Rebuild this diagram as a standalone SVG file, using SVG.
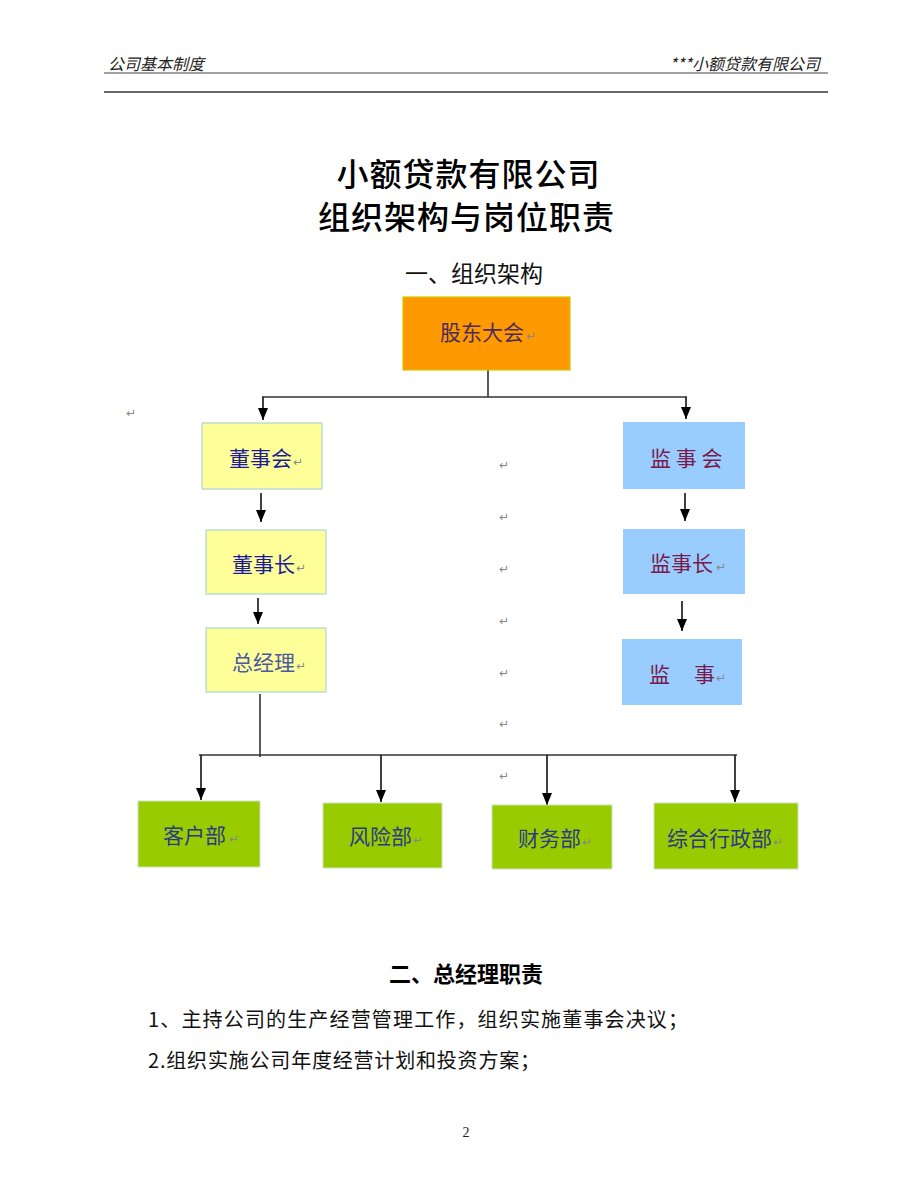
<svg xmlns="http://www.w3.org/2000/svg" width="920" height="1191" viewBox="0 0 920 1191">
<defs>
<marker id="arr" markerUnits="userSpaceOnUse" markerWidth="10" markerHeight="12" refX="5" refY="12" orient="0" viewBox="0 0 10 12">
<path d="M0,0 L10,0 L5,12 z" fill="#000"/>
</marker>
<style>
.cjk{font-family:"Noto Sans CJK SC","Noto Sans",sans-serif;}
.hdr{font-family:"Noto Sans CJK SC",sans-serif;font-size:16px;font-style:italic;fill:#222;}
.box{font-family:"Noto Sans CJK SC",sans-serif;font-size:21px;}
.ret{font-family:"DejaVu Sans",sans-serif;font-size:12px;fill:#888;}
.ln{stroke:#333;stroke-width:1.6;fill:none;}
.ar{stroke:#111;stroke-width:1.6;fill:none;marker-end:url(#arr);}
.body{font-family:"Noto Sans CJK SC",sans-serif;font-size:20px;fill:#111;}
</style>
</defs>
<rect width="920" height="1191" fill="#fff"/>

<g id="header">
<text class="hdr" x="108" y="70">公司基本制度</text>
<text class="hdr" x="820" y="70" text-anchor="end">***小额贷款有限公司</text>
<line x1="104" y1="73" x2="828" y2="73" stroke="#444" stroke-width="1"/>
<line x1="104" y1="92" x2="828" y2="92" stroke="#333" stroke-width="1.6"/>
</g>

<g id="titles">
<text class="cjk" x="468" y="186" font-size="32" font-weight="500" text-anchor="middle" fill="#000" textLength="263" lengthAdjust="spacing">小额贷款有限公司</text>
<text class="cjk" x="466" y="229" font-size="32" font-weight="500" text-anchor="middle" fill="#000" textLength="296" lengthAdjust="spacing">组织架构与岗位职责</text>
<text class="cjk" x="474" y="282" font-size="23" text-anchor="middle" fill="#111">一、组织架构</text>
</g>

<g id="connectors">
<path class="ln" d="M488,370 V397"/>
<path class="ln" d="M262,397 H687"/>
<path class="ar" d="M263,397 V420"/>
<path class="ar" d="M686,397 V419"/>
<path class="ar" d="M261,493 V522"/>
<path class="ar" d="M685,493 V521"/>
<path class="ar" d="M258,598 V624"/>
<path class="ar" d="M682,601 V631"/>
<path class="ln" d="M260,694 V757"/>
<path class="ln" d="M199,755 H737"/>
<path class="ar" d="M201,755 V800"/>
<path class="ar" d="M381,755 V802"/>
<path class="ar" d="M547,755 V805"/>
<path class="ar" d="M735,755 V802"/>
</g>

<g id="node-gudong">
<rect x="403" y="297" width="167" height="73" fill="#FF9900" stroke="#D6C400" stroke-width="1.2"/>
<text class="box" x="440" y="340" fill="#4d2a5c">股东大会</text>
<text class="ret" x="526" y="340">↵</text>
</g>

<g id="node-dongshihui">
<rect x="202" y="423" width="120" height="66" fill="#FFFF99" stroke="#A8D8D0" stroke-width="1.2"/>
<text class="box" x="229" y="466" fill="#1c1c9a">董事会</text>
<text class="ret" x="293" y="466">↵</text>
</g>

<g id="node-dongshizhang">
<rect x="206" y="530" width="120" height="64" fill="#FFFF99" stroke="#A8D8D0" stroke-width="1.2"/>
<text class="box" x="232" y="572" fill="#1c1c9a">董事长</text>
<text class="ret" x="296" y="572">↵</text>
</g>

<g id="node-zongjingli">
<rect x="206" y="628" width="120" height="64" fill="#FFFF99" stroke="#A8D8D0" stroke-width="1.2"/>
<text class="box" x="232" y="670" fill="#4a5aa6">总经理</text>
<text class="ret" x="296" y="670">↵</text>
</g>

<g id="node-jianshihui">
<rect x="623" y="422" width="122" height="67" fill="#99CCFF"/>
<text class="box" x="650" y="466" fill="#7a1a48">监 事 会</text>
</g>

<g id="node-jianshizhang">
<rect x="623" y="529" width="122" height="65" fill="#99CCFF"/>
<text class="box" x="650" y="571" fill="#7a1a48">监事长</text>
<text class="ret" x="716" y="571">↵</text>
</g>

<g id="node-jianshi">
<rect x="622" y="639" width="120" height="66" fill="#99CCFF"/>
<text class="box" x="649" y="682" fill="#7a1a48">监</text>
<text class="box" x="694" y="682" fill="#7a1a48">事</text>
<text class="ret" x="716" y="682">↵</text>
</g>

<g id="node-kehu">
<rect x="138" y="801" width="122" height="66" fill="#99CC00" stroke="#CFE0C0" stroke-width="1"/>
<text class="box" x="163" y="843" fill="#2a3a86">客户部</text>
<text class="ret" x="229" y="843">↵</text>
</g>

<g id="node-fengxian">
<rect x="323" y="803" width="119" height="65" fill="#99CC00" stroke="#CFE0C0" stroke-width="1"/>
<text class="box" x="349" y="844" fill="#2a3a86">风险部</text>
<text class="ret" x="413" y="844">↵</text>
</g>

<g id="node-caiwu">
<rect x="492" y="805" width="120" height="64" fill="#99CC00" stroke="#CFE0C0" stroke-width="1"/>
<text class="box" x="518" y="846" fill="#2a3a86">财务部</text>
<text class="ret" x="582" y="846">↵</text>
</g>

<g id="node-zonghe">
<rect x="654" y="803" width="144" height="66" fill="#99CC00" stroke="#CFE0C0" stroke-width="1"/>
<text class="box" x="667" y="846" fill="#2a3a86">综合行政部</text>
<text class="ret" x="773" y="846">↵</text>
</g>

<g id="return-marks">
<text class="ret" x="126" y="417">↵</text>
<text class="ret" x="499" y="469">↵</text>
<text class="ret" x="499" y="521">↵</text>
<text class="ret" x="499" y="573">↵</text>
<text class="ret" x="499" y="625">↵</text>
<text class="ret" x="499" y="677">↵</text>
<text class="ret" x="499" y="728">↵</text>
<text class="ret" x="499" y="780">↵</text>
</g>

<g id="section2">
<text class="cjk" x="466" y="982" font-size="22" font-weight="bold" text-anchor="middle" fill="#000">二、总经理职责</text>
<text class="body" x="148" y="1027" textLength="540" lengthAdjust="spacing">1、主持公司的生产经营管理工作，组织实施董事会决议；</text>
<text class="body" x="148" y="1068" textLength="392" lengthAdjust="spacing">2.组织实施公司年度经营计划和投资方案；</text>
<text x="466" y="1137" font-family="Liberation Serif,serif" font-size="14" text-anchor="middle" fill="#222">2</text>
</g>
</svg>
